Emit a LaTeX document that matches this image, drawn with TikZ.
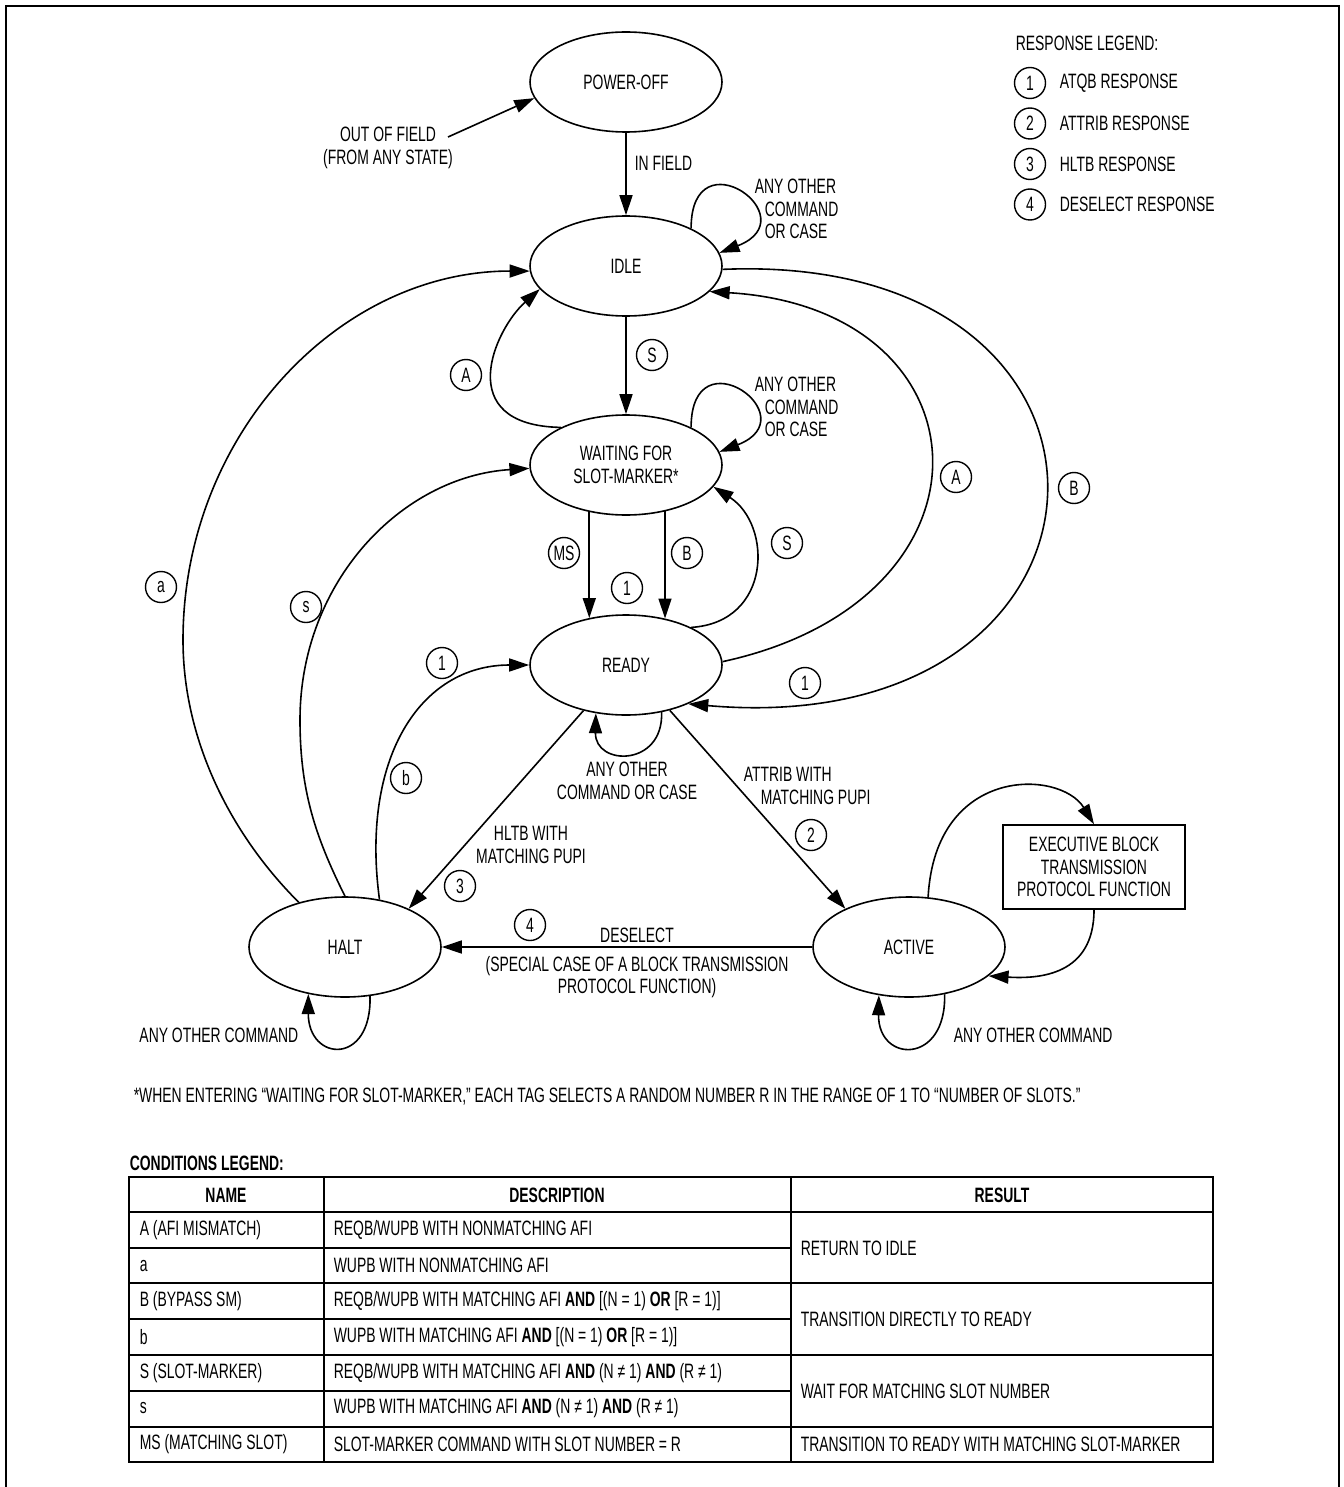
\documentclass[tikz,border=0pt]{standalone}
\usepackage{fontspec}
\setmainfont{Liberation Sans}[FakeStretch=0.67]
\usepackage{tikz}
\usetikzlibrary{arrows.meta,shapes.geometric}

\begin{document}
\begin{tikzpicture}[x=0.5pt,y=-0.5pt,line width=0.8pt,
            font=\fontsize{10.4}{11.2}\selectfont,
            >={Triangle[length=10pt,width=6.5pt]},
            st/.style={shape=ellipse,draw=black,minimum width=96pt,minimum height=50pt,inner sep=0pt,align=center},
            tag/.style={shape=circle,draw=black,minimum size=15.5pt,inner sep=0pt,line width=0.7pt},
            txt/.style={inner sep=0pt,align=center},
            hd/.style={inner sep=0pt,font=\fontsize{10.4}{11.2}\selectfont\bfseries}]
            \useasboundingbox (0,0) rectangle (1343,1487);
            \draw[line width=1.4pt] (6,1487) -- (6,6) -- (1339,6) -- (1339,1487);

            \node[st] (poweroff) at (626,82) {POWER-OFF};
            \node[st] (idle) at (626,266) {IDLE};
            \node[st] (waiting) at (626,465) {WAITING FOR\\SLOT-MARKER*};
            \node[st] (ready) at (626,665) {READY};
            \node[st] (halt) at (345,947) {HALT};
            \node[st] (active) at (909,947) {ACTIVE};
            \node[draw=black,inner sep=0pt,minimum width=91pt,minimum height=42pt,align=center] (execbox) at (1094,867) {EXECUTIVE BLOCK\\TRANSMISSION\\PROTOCOL FUNCTION};

            \node[txt] (outfield) at (388,148) {OUT OF FIELD\\(FROM ANY STATE)};
            \coordinate (outtail) at (448,137);

            \node[txt,anchor=west] (resphead) at (1015,43) {RESPONSE LEGEND:};
            \foreach \n/\t in {1/ATQB RESPONSE,2/ATTRIB RESPONSE,3/HLTB RESPONSE,4/DESELECT RESPONSE} {
                \node[tag] (r\n) at ({1030},{42.5+40.5*\n}) {\n};
                \node[txt,anchor=west] (rt\n) at ({1059},{42.5+40.5*\n}) {\t};
            }

            \node[tag] (tS1) at (652,355) {S};
            \node[tag] (tA1) at (466,375) {A};
            \node[tag] (tMS) at (564,553) {MS};
            \node[tag] (tB1) at (687,553) {B};
            \node[tag] (t1a) at (627,588) {1};
            \node[tag] (tS2) at (787,543) {S};
            \node[tag] (tA2) at (956,477) {A};
            \node[tag] (tB2) at (1074,488) {B};
            \node[tag] (t1b) at (805,683) {1};
            \node[tag] (ta) at (161,587) {a};
            \node[tag] (ts) at (306,607) {s};
            \node[tag] (t1c) at (442,663) {1};
            \node[tag] (tb) at (406,778) {b};
            \node[tag] (t3) at (460,886) {3};
            \node[tag] (t2) at (811,835) {2};
            \node[tag] (t4) at (530,925) {4};

            \node[txt,align=left,anchor=west] (idleloop) at (754,209) {ANY OTHER\\\hspace*{5pt}COMMAND\\\hspace*{5pt}OR CASE};
            \node[txt,align=left,anchor=west] (waitloop) at (754,407) {ANY OTHER\\\hspace*{5pt}COMMAND\\\hspace*{5pt}OR CASE};
            \node[txt] (readyloop) at (627,781) {ANY OTHER\\COMMAND OR CASE};
            \node[txt] (hltbtxt) at (531,845) {HLTB WITH\\MATCHING PUPI};
            \node[txt,align=left,anchor=west] (attribtxt) at (743,786) {ATTRIB WITH\\\hspace*{8.5pt}MATCHING PUPI};
            \node[txt] (deseltxt) at (637,935) {DESELECT};
            \node[txt] (specialtxt) at (637,977) {(SPECIAL CASE OF A BLOCK TRANSMISSION\\PROTOCOL FUNCTION)};
            \node[txt,anchor=east] (haltloop) at (299,1035) {ANY OTHER COMMAND};
            \node[txt,anchor=west] (activeloop) at (953,1035) {ANY OTHER COMMAND};

            \draw[->] (outtail) -- (poweroff.190);
            \path[->] (poweroff) edge node[txt,right=4pt,pos=0.37] {IN FIELD} (idle);
            \path[->] (idle) edge (waiting);
            \path[->] (waiting.232) edge (ready.128);
            \path[->] (waiting.310) edge (ready.50);
            \path[->] (ready.227) edge (halt.31);
            \path[->] (ready.314) edge (active.149);
            \path[->] (active) edge (halt);

            \draw[->] (idle.30) .. controls +(0,-95) and +(90,-35) .. (idle.8);
            \draw[->] (waiting.30) .. controls +(0,-95) and +(90,-35) .. (waiting.8);
            \draw[->] (waiting.150) .. controls +(-110,-2) and +(-45,40) .. (idle.195);
            \draw[->] (ready.30) .. controls +(81,-5) and +(59,38) .. (waiting.346);
            \draw[->] (ready.2) .. controls +(287,-62) and +(284,17) .. (idle.343);
            \draw[->] (idle.358) .. controls +(447,-19) and +(459,40) .. (ready.328);
            \draw[->] (halt.136) .. controls +(-70,-70) and +(0,98) .. (183,640) .. controls +(0,-204) and +(-192,0) .. (idle.183);
            \draw[->] (halt.north) .. controls +(-30,-60) and +(0,70) .. (300,720) .. controls +(0,-139) and +(-127,8) .. (waiting.182);
            \draw[->] (halt.54) .. controls +(-19,-140) and +(-110,0) .. (ready.west);
            \draw[->] (ready.307) .. controls +(2,55) and +(-1,53) .. (ready.238);
            \draw[->] (halt.297) .. controls +(2,70) and +(0,68) .. (halt.232);
            \draw[->] (active.307) .. controls +(2,71) and +(-1,68) .. (active.238);
            \draw[->] (active.69) .. controls +(7,-132) and +(-34,-55) .. (execbox.north);
            \draw[->] (execbox.south) .. controls +(0,66) and +(50,3) .. (active.340);

            \node[txt,anchor=west] (footnote) at (133,1097) {*WHEN ENTERING “WAITING FOR SLOT-MARKER,” EACH TAG SELECTS A RANDOM NUMBER R IN THE RANGE OF 1 TO “NUMBER OF SLOTS.”};
            \node[hd,anchor=west] (condhead) at (129,1163) {CONDITIONS LEGEND:};

            \draw[line width=1pt] (129,1177) rectangle (1213,1462);
            \draw[line width=1pt] (324,1177) -- (324,1462) (791,1177) -- (791,1462);
            \foreach \y in {1212,1283,1355,1427} \draw[line width=1pt] (129,\y) -- (1213,\y);
            \foreach \y in {1248,1319,1391} \draw[line width=1pt] (129,\y) -- (791,\y);

            \node[hd] (hname) at (226,1195) {NAME};
            \node[hd] (hdesc) at (557,1195) {DESCRIPTION};
            \node[hd] (hres) at (1002,1195) {RESULT};
            \foreach \nm/\ds [count=\i] in {{A (AFI MISMATCH)}/{REQB/WUPB WITH NONMATCHING AFI},
                a/{WUPB WITH NONMATCHING AFI},
                {B (BYPASS SM)}/{REQB/WUPB WITH MATCHING AFI \textbf{AND} [(N = 1) \textbf{OR} [R = 1)]},
                b/{WUPB WITH MATCHING AFI \textbf{AND} [(N = 1) \textbf{OR} [R = 1)]},
                {S (SLOT-MARKER)}/{REQB/WUPB WITH MATCHING AFI \textbf{AND} (N ≠ 1) \textbf{AND} (R ≠ 1)},
                s/{WUPB WITH MATCHING AFI \textbf{AND} (N ≠ 1) \textbf{AND} (R ≠ 1)},
                {MS (MATCHING SLOT)}/{SLOT-MARKER COMMAND WITH SLOT NUMBER = R}} {
                \node[txt,anchor=west] (nm\i) at ({139},{1212+35.71*(\i-0.5)}) {\nm};
                \node[txt,anchor=west] (ds\i) at ({333},{1212+35.71*(\i-0.5)}) {\ds};
            }
            \foreach \ry/\rs [count=\i] in {1248/RETURN TO IDLE,1319/TRANSITION DIRECTLY TO READY,1391/WAIT FOR MATCHING SLOT NUMBER,1444.5/TRANSITION TO READY WITH MATCHING SLOT-MARKER}
                \node[txt,anchor=west] (rs\i) at (800,\ry) {\rs};
        \end{tikzpicture}
\end{document}
